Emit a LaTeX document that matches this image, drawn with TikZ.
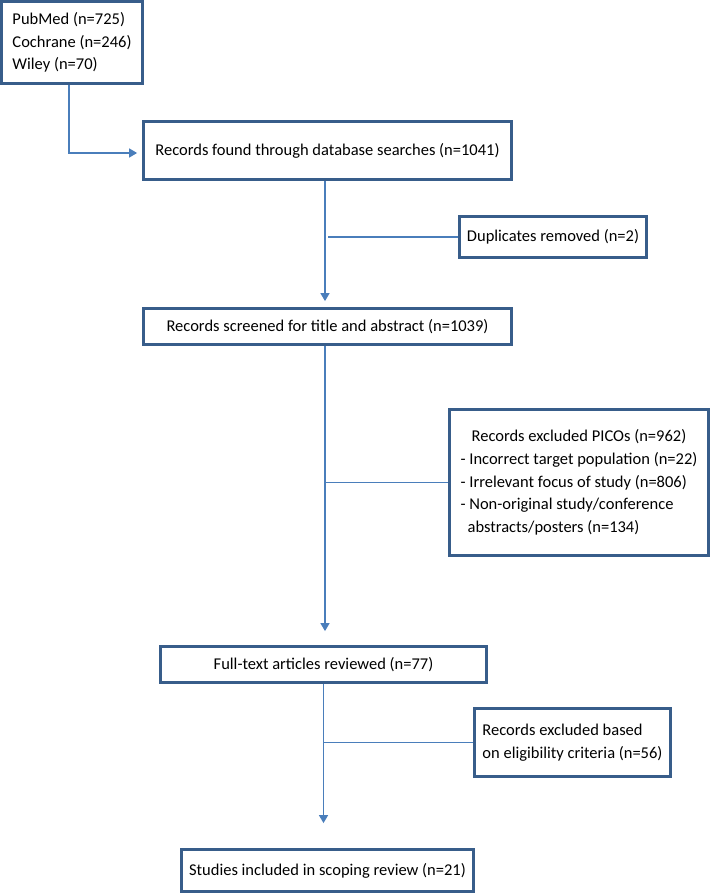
\documentclass[tikz,border=0pt]{standalone}
\usepackage{fontspec}
\setmainfont{Carlito}
\usetikzlibrary{arrows.meta}
\definecolor{boxblue}{RGB}{56,93,138}
\definecolor{lineblue}{RGB}{74,126,187}

\begin{document}
\begin{tikzpicture}[x=1pt,y=-1pt,
    box/.style={draw=boxblue, line width=2.8pt, fill=white, inner sep=0pt,
        font=\fontsize{16.5}{22.7}\selectfont},
    line/.style={draw=lineblue, line width=1.5pt},
    arr/.style={line, -{Triangle[width=9pt,length=8pt]}}]
    \useasboundingbox (0,0) rectangle (711,896);

    \node[box, minimum width=141pt, minimum height=82pt, align=left] (src) at (72,42.5)
        {PubMed (n=725)\\Cochrane (n=246)\\Wiley (n=70)};
    \node[box, minimum width=368pt, minimum height=58pt] (rec) at (327.5,150.5)
        {Records found through database searches (n=1041)};
    \node[box, minimum width=187pt, minimum height=41pt] (dup) at (553,237)
        {Duplicates removed (n=2)};
    \node[box, minimum width=368pt, minimum height=36pt] (scr) at (327.5,326.5)
        {Records screened for title and abstract (n=1039)};
    \node[box, minimum width=259pt, minimum height=146pt, align=left] (pico) at (579,482.5)
        {\hspace*{11pt}Records excluded PICOs (n=962)\\
         - Incorrect target population (n=22)\\
         - Irrelevant focus of study (n=806)\\
         - Non-original study/conference\\
         \hspace*{7pt}abstracts/posters (n=134)};
    \node[box, minimum width=326pt, minimum height=36pt] (full) at (323.5,664.5)
        {Full-text articles reviewed (n=77)};
    \node[box, minimum width=196pt, minimum height=68pt, align=left] (elig) at (572.5,742.5)
        {Records excluded based\\on eligibility criteria (n=56)};
    \node[box, minimum width=292pt, minimum height=42pt] (stud) at (327.5,870.5)
        {Studies included in scoping review (n=21)};

    \draw[arr, shorten >=5pt] ([xshift=-3pt]src.south) |- ([yshift=-2.5pt]rec.west);
    \draw[arr, shorten >=6pt] ([xshift=-2.5pt]rec.south) -- ([xshift=-2.5pt]rec.south |- scr.north);
    \draw[line] (dup.west) -- (dup.west -| rec.south);
    \draw[arr, shorten >=14pt] ([xshift=-2.5pt]scr.south) -- ([xshift=-2.5pt]scr.south |- full.north);
    \draw[line] (pico.west) -- ([xshift=-2.5pt]pico.west -| scr.south);
    \draw[arr, shorten >=25pt] (full.south) -- (full.south |- stud.north);
    \draw[line] (elig.west) -- (elig.west -| full.south);

\end{tikzpicture}
\end{document}
